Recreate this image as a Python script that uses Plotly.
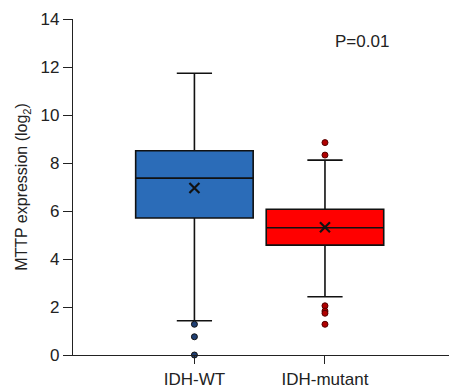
import plotly.graph_objects as go

groups = ["IDH-WT", "IDH-mutant"]
q1 = [5.71, 4.58]
median = [7.37, 5.30]
q3 = [8.51, 6.07]
lowerfence = [1.43, 2.43]
upperfence = [11.74, 8.12]
means = [6.96, 5.32]
outliers_wt = [1.28, 0.76, 0.0]
outliers_mut = [8.85, 8.33, 2.05, 1.83, 1.74, 1.28]
fills = ["#2B6CB8", "#FF0000"]
outlier_colors = ["#1F3F73", "#B00000"]

fig = go.Figure()
for i, g in enumerate(groups):
    fig.add_trace(go.Box(
        x=[g], q1=[q1[i]], median=[median[i]], q3=[q3[i]],
        lowerfence=[lowerfence[i]], upperfence=[upperfence[i]],
        fillcolor=fills[i], line=dict(color="#111111", width=1.6),
        width=0.9, whiskerwidth=0.3, boxpoints=False, showlegend=False,
    ))

fig.add_trace(go.Scatter(
    x=[groups[0]] * len(outliers_wt), y=outliers_wt, mode="markers",
    marker=dict(symbol="circle", size=6, color=outlier_colors[0],
                line=dict(color="#111111", width=1)),
    showlegend=False, cliponaxis=False,
))
fig.add_trace(go.Scatter(
    x=[groups[1]] * len(outliers_mut), y=outliers_mut, mode="markers",
    marker=dict(symbol="circle", size=6, color=outlier_colors[1],
                line=dict(color="#550000", width=1)),
    showlegend=False, cliponaxis=False,
))
fig.add_trace(go.Scatter(
    x=groups, y=means, mode="markers",
    marker=dict(symbol="x-thin", size=10, line=dict(color="#111111", width=2.2)),
    showlegend=False,
))

fig.add_annotation(x=1.28, y=13.05, xref="x", yref="y", text="P=0.01",
                   showarrow=False, font=dict(size=17, color="#222222",
                   family="Liberation Sans, Arial, sans-serif"))

fig.update_layout(
    width=449, height=391,
    margin=dict(l=73, r=0, t=19, b=36),
    paper_bgcolor="white", plot_bgcolor="white",
    font=dict(family="Liberation Sans, Arial, sans-serif", size=17, color="#222222"),
    xaxis=dict(
        type="category", categoryorder="array", categoryarray=groups,
        range=[-0.93, 1.95], showline=True, linecolor="#222222", linewidth=1.2,
        ticks="outside", ticklen=8, tickcolor="#222222", showgrid=False,
        tickfont=dict(size=17), zeroline=False,
    ),
    yaxis=dict(
        range=[0, 14], tickvals=[0, 2, 4, 6, 8, 10, 12, 14],
        showline=True, linecolor="#222222", linewidth=1.2,
        ticks="outside", ticklen=9, tickcolor="#222222", showgrid=False,
        zeroline=False, tickfont=dict(size=17),
        title=dict(text="MTTP expression (log<sub>2</sub>)", font=dict(size=16), standoff=8),
    ),
)

fig.write_html("out.html")
